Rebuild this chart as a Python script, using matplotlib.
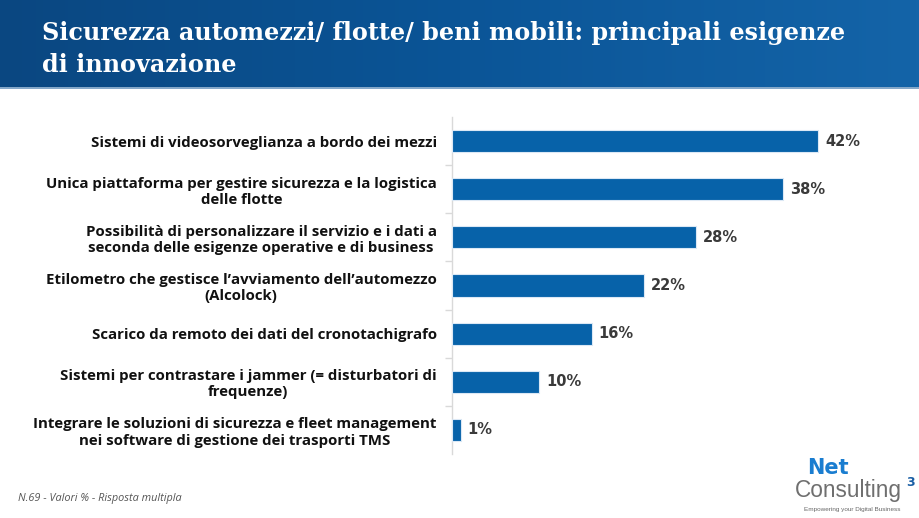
import numpy as np
import matplotlib
matplotlib.use("Agg")
import matplotlib.pyplot as plt
from matplotlib.colors import LinearSegmentedColormap

categories = [
    "Sistemi di videosorveglianza a bordo dei mezzi",
    "Unica piattaforma per gestire sicurezza e la logistica\ndelle flotte",
    "Possibilità di personalizzare il servizio e i dati a\nseconda delle esigenze operative e di business",
    "Etilometro che gestisce l’avviamento dell’automezzo\n(Alcolock)",
    "Scarico da remoto dei dati del cronotachigrafo",
    "Sistemi per contrastare i jammer (= disturbatori di\nfrequenze)",
    "Integrare le soluzioni di sicurezza e fleet management\nnei software di gestione dei trasporti TMS",
]
values = [42, 38, 28, 22, 16, 10, 1]
value_labels = ["42%", "38%", "28%", "22%", "16%", "10%", "1%"]

title = "Sicurezza automezzi/ flotte/ beni mobili: principali esigenze\ndi innovazione"
footnote = "N.69 - Valori % - Risposta multipla"

W, H = 920, 518
fig = plt.figure(figsize=(W / 100, H / 100), dpi=100)
fig.patch.set_facecolor("white")

# Header gradient band
hdr = fig.add_axes([0, 1 - 87 / H, 1, 87 / H])
cmap = LinearSegmentedColormap.from_list("hdr", ["#0a4781", "#0b5597", "#1464a8"])
grad = np.linspace(0, 1, 256).reshape(1, -1)
hdr.imshow(grad, aspect="auto", cmap=cmap, extent=[0, 1, 0, 1])
hdr.set_xlim(0, 1)
hdr.set_ylim(0, 1)
hdr.axis("off")
fig.add_artist(plt.Line2D([0, 1], [1 - 88 / H, 1 - 88 / H], color="#6d97bf", lw=1.2,
                          transform=fig.transFigure))
fig.text(42 / W, 1 - 49 / H, title, color="white", fontsize=17.2, fontweight="bold",
         family="DejaVu Serif", va="center", ha="left", linespacing=1.45)

# Main axes
left_px, right_px = 452, 452 + 50 * 8.72
top_px, bot_px = 117, 454
ax = fig.add_axes([left_px / W, 1 - bot_px / H, (right_px - left_px) / W, (bot_px - top_px) / H])
y = np.arange(len(categories))
ax.barh(y, values, height=0.46, color="#0762a9", edgecolor="#dbe8f5", linewidth=0.8, zorder=3)
ax.set_xlim(0, 50)
ax.set_ylim(len(categories) - 0.5, -0.5)
ax.set_xticks([])
ax.set_yticks(y)
ax.set_yticklabels(categories, fontsize=10.8, fontweight="bold", color="#111111",
                   family="Open Sans", multialignment="center", linespacing=1.2)
ax.tick_params(axis="y", which="major", length=0, pad=11)
ax.set_yticks(np.arange(len(categories) - 1) + 0.5, minor=True)
ax.tick_params(axis="y", which="minor", length=5, color="#d9d9d9", width=1)
for s in ["top", "right", "bottom"]:
    ax.spines[s].set_visible(False)
ax.spines["left"].set_color("#d9d9d9")
ax.spines["left"].set_linewidth(1)
ax.set_facecolor("none")

for yi, v, lab in zip(y, values, value_labels):
    ax.text(v + 0.8, yi, lab, va="center", ha="left", fontsize=10.5, fontweight="bold",
            color="#3a3a3a", family="DejaVu Sans")

# Footnote
fig.text(18 / W, 1 - 498 / H, footnote, fontsize=7.8, style="italic", color="#555555",
         family="Open Sans", va="center", ha="left")

# Logo
fig.text(807 / W, 1 - 468 / H, "Net", fontsize=15, fontweight="heavy", color="#1a7dd0",
         family="DejaVu Sans", va="center", ha="left")
fig.text(795 / W, 1 - 491 / H, "Consulting", fontsize=16.3, color="#6f6f6f",
         family="Liberation Sans", va="center", ha="left")
fig.text(906 / W, 1 - 482 / H, "3", fontsize=9, fontweight="bold", color="#1a5fa5",
         family="DejaVu Sans", va="center", ha="left")
fig.text(852 / W, 1 - 509 / H, "Empowering your Digital Business", fontsize=4.6,
         color="#666666", family="Liberation Sans", va="center", ha="center")

fig.savefig("out.png", dpi=100)
